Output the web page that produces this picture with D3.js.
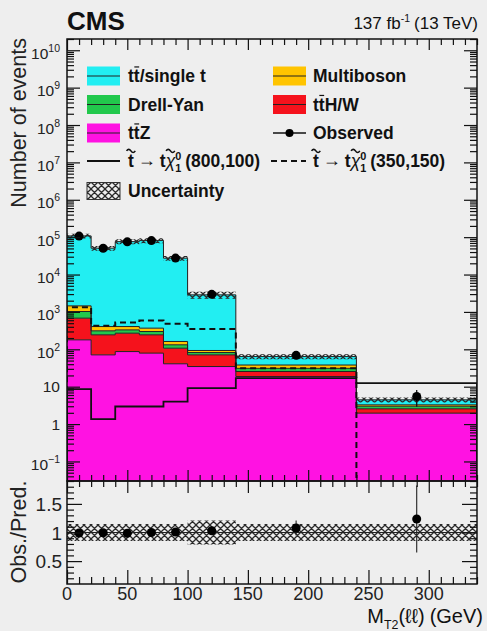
<html>
<script src="https://d3js.org/d3.v7.min.js"></script>
<body style="margin:0;background:#eeeeee">
<svg></svg>
<script>
// bins in MT2(ll), GeV
const binEdges   = [0, 20, 40, 60, 80, 100, 140, 240, 340];
// backgrounds, events per bin
const ttZ        = [179, 71, 87, 79, 41, 34.6, 18.7, 1.96];
const ttHW       = [502, 173, 183, 165, 66, 36.4, 6.8, 0.60];
const drellYan   = [345, 68, 61, 55, 25, 11, 5.5, 0.44];
const multiboson = [426, 94, 75, 69, 30, 11, 7.0, 0.27];
const ttSingleT  = [106500, 50300, 75600, 80700, 27240, 2767, 26, 1.18];
// data
const observed   = [107000, 50500, 75000, 81000, 27600, 2950, 69, 5.5];
const obsErr     = [330, 225, 275, 285, 165, 54, 8.3, 2.6];
// relative uncertainty of the prediction
const uncRel     = [0.15, 0.15, 0.15, 0.15, 0.15, 0.21, 0.15, 0.15];
// signals
const sig800     = [8.6, 1.36, 2.95, 2.95, 4.0, 9.1, 17, 12.4];
const sig350     = [1340, 425, 520, 590, 480, 347, 31, 0];
// ticks
const xTickLabels = [0, 50, 100, 150, 200, 250, 300];
const yExponents  = [-1, 0, 1, 2, 3, 4, 5, 6, 7, 8, 9, 10];
const ratioTickLabels = [0.5, 1, 1.5];

const width = 487, height = 631;
const L = 67, R = 477, T = 39, MB = 481, RB = 584;
const font = "Liberation Sans, Arial, Helvetica, sans-serif";

const svg = d3.select("svg").attr("width", width).attr("height", height)
    .style("font-family", font).style("white-space", "pre");

const x = d3.scaleLinear([0, 340], [L, R]);
const yMin = 0.03;
const y = d3.scaleLog([yMin, 2e10], [MB, T]);
const yr = d3.scaleLinear([0.1, 1.9], [RB, MB]);
const ylog = v => y(Math.max(v, yMin * 0.5));

const defs = svg.append("defs");
defs.append("clipPath").attr("id", "clipMain").append("rect")
    .attr("x", L).attr("y", T).attr("width", R - L).attr("height", MB - T);
defs.append("clipPath").attr("id", "clipRatio").append("rect")
    .attr("x", L).attr("y", MB).attr("width", R - L).attr("height", RB - MB);
defs.append("pattern").attr("id", "hatch").attr("width", 7).attr("height", 7)
    .attr("patternUnits", "userSpaceOnUse")
    .append("path").attr("d", "M0,0 L7,7 M7,0 L0,7 M-1,6 L1,8 M6,-1 L8,1")
    .attr("stroke", "#2a2a2a").attr("stroke-width", 1.3).attr("fill", "none");

const nb = binEdges.length - 1;
const bins = d3.range(nb);

// step points for a histogram
function steps(vals) {
    const pts = [];
    bins.forEach(i => {
        pts.push({ x: binEdges[i], v: vals[i] });
        pts.push({ x: binEdges[i + 1], v: vals[i] });
    });
    return pts;
}

// ---- stack ----
const keys = ["ttZ", "ttHW", "dy", "mb", "tt"];
const colors = { ttZ: "#ff12e2", ttHW: "#f5121c", dy: "#22c84c", mb: "#ffc400", tt: "#22eef2" };
const table = bins.map(i => ({
    ttZ: ttZ[i], ttHW: ttHW[i], dy: drellYan[i], mb: multiboson[i], tt: ttSingleT[i]
}));
const stacked = d3.stack().keys(keys)(table);
const total = bins.map(i => stacked[stacked.length - 1][i][1]);

const main = svg.append("g").attr("clip-path", "url(#clipMain)");

stacked.forEach(s => {
    const pts = [];
    bins.forEach(i => {
        pts.push({ x: binEdges[i], y0: s[i][0], y1: s[i][1] });
        pts.push({ x: binEdges[i + 1], y0: s[i][0], y1: s[i][1] });
    });
    main.append("path")
        .attr("d", d3.area().x(d => x(d.x)).y0(d => ylog(d.y0)).y1(d => ylog(d.y1))(pts))
        .attr("fill", colors[s.key]);
});
stacked.forEach(s => {
    main.append("path")
        .attr("d", d3.line().x(d => x(d.x)).y(d => ylog(d.v))(steps(bins.map(i => s[i][1]))))
        .attr("fill", "none").attr("stroke", "#222").attr("stroke-width", 1);
});

// uncertainty band on the stack
const bandPts = [];
bins.forEach(i => {
    bandPts.push({ x: binEdges[i], u: uncRel[i], t: total[i] });
    bandPts.push({ x: binEdges[i + 1], u: uncRel[i], t: total[i] });
});
main.append("path")
    .attr("d", d3.area().x(d => x(d.x)).y0(d => y(d.t * (1 - d.u))).y1(d => y(d.t * (1 + d.u)))(bandPts))
    .attr("fill", "url(#hatch)");

// signal lines
function sigPath(vals) {
    const pts = steps(vals);
    const p = [{ x: binEdges[0], v: 0 }].concat(pts, [{ x: binEdges[nb], v: 0 }]);
    return d3.line().x(d => x(d.x)).y(d => ylog(d.v))(p);
}
main.append("path").attr("d", sigPath(sig800))
    .attr("fill", "none").attr("stroke", "#111").attr("stroke-width", 1.8);
main.append("path").attr("d", sigPath(sig350))
    .attr("fill", "none").attr("stroke", "#111").attr("stroke-width", 2)
    .attr("stroke-dasharray", "6,4");

// observed
const mid = i => (binEdges[i] + binEdges[i + 1]) / 2;
main.selectAll(".err").data(bins).join("line")
    .attr("x1", i => x(mid(i))).attr("x2", i => x(mid(i)))
    .attr("y1", i => y(observed[i] - obsErr[i])).attr("y2", i => y(observed[i] + obsErr[i]))
    .attr("stroke", "#111").attr("stroke-width", 1.3);
main.selectAll(".obs").data(bins).join("circle")
    .attr("cx", i => x(mid(i))).attr("cy", i => y(observed[i])).attr("r", 4.5)
    .attr("fill", "#000");

// ---- ratio panel ----
const ratio = svg.append("g").attr("clip-path", "url(#clipRatio)");
ratio.append("path")
    .attr("d", d3.area().x(d => x(d.x)).y0(d => yr(1 - d.u)).y1(d => yr(1 + d.u))(bandPts))
    .attr("fill", "url(#hatch)");
ratio.append("line").attr("x1", L).attr("x2", R).attr("y1", yr(1)).attr("y2", yr(1))
    .attr("stroke", "#222").attr("stroke-width", 1);
ratio.selectAll(".rerr").data(bins).join("line")
    .attr("x1", i => x(mid(i))).attr("x2", i => x(mid(i)))
    .attr("y1", i => yr((observed[i] - obsErr[i]) / total[i]))
    .attr("y2", i => yr((observed[i] + obsErr[i]) / total[i]))
    .attr("stroke", "#222").attr("stroke-width", 1.1);
ratio.selectAll(".robs").data(bins).join("circle")
    .attr("cx", i => x(mid(i))).attr("cy", i => yr(observed[i] / total[i])).attr("r", 4.5)
    .attr("fill", "#000");

// ---- axes ----
function tickAxis(axis, tr, size, values) {
    svg.append("g").attr("transform", tr)
        .call(axis.tickValues(values).tickSize(size).tickSizeOuter(0).tickFormat(""))
        .call(g => g.select(".domain").remove())
        .call(g => g.selectAll("line").attr("stroke", "#111").attr("stroke-width", 1.2));
}
const xMajor = d3.range(0, 341, 50), xMinor = d3.range(0, 341, 10).filter(v => v % 50);
// main x ticks
tickAxis(d3.axisBottom(x), `translate(0,${MB})`, -11, xMajor);
tickAxis(d3.axisBottom(x), `translate(0,${MB})`, -6, xMinor);
tickAxis(d3.axisTop(x), `translate(0,${T})`, -11, xMajor);
tickAxis(d3.axisTop(x), `translate(0,${T})`, -6, xMinor);
// ratio x ticks
tickAxis(d3.axisBottom(x), `translate(0,${RB})`, -14, xMajor);
tickAxis(d3.axisBottom(x), `translate(0,${RB})`, -7, xMinor);
tickAxis(d3.axisTop(x), `translate(0,${MB})`, -12, xMajor);
tickAxis(d3.axisTop(x), `translate(0,${MB})`, -6, xMinor);
// main y ticks
const yAll = y.ticks(40);
const yMajor = yAll.filter(v => Math.abs(Math.log10(v) - Math.round(Math.log10(v))) < 1e-6);
const yMinor = yAll.filter(v => !yMajor.includes(v));
tickAxis(d3.axisLeft(y), `translate(${L},0)`, -13, yMajor);
tickAxis(d3.axisLeft(y), `translate(${L},0)`, -7, yMinor);
tickAxis(d3.axisRight(y), `translate(${R},0)`, -13, yMajor);
tickAxis(d3.axisRight(y), `translate(${R},0)`, -7, yMinor);
// ratio y ticks
const rMinor = d3.range(0.2, 1.85, 0.1).map(v => +v.toFixed(1)).filter(v => !ratioTickLabels.includes(v));
tickAxis(d3.axisLeft(yr), `translate(${L},0)`, -15, ratioTickLabels);
tickAxis(d3.axisLeft(yr), `translate(${L},0)`, -7, rMinor);
tickAxis(d3.axisRight(yr), `translate(${R},0)`, -15, ratioTickLabels);
tickAxis(d3.axisRight(yr), `translate(${R},0)`, -7, rMinor);

// frames
[[T, MB], [MB, RB]].forEach(([a, b]) => {
    svg.append("rect").attr("x", L).attr("y", a).attr("width", R - L).attr("height", b - a)
        .attr("fill", "none").attr("stroke", "#111").attr("stroke-width", 1.5);
});

// tick labels
const ylab = svg.append("g").attr("font-size", 15.5).attr("fill", "#222");
yExponents.forEach(e => {
    const v = Math.pow(10, e);
    if (e === 0 || e === 1) {
        ylab.append("text").attr("x", 60).attr("y", y(v) + 5.5).attr("text-anchor", "end")
            .text(e === 0 ? "1" : "10");
    } else {
        const t = ylab.append("text").attr("x", 60).attr("y", y(v) + 8.5).attr("text-anchor", "end");
        t.append("tspan").text("10");
        t.append("tspan").attr("font-size", 10.5).attr("dy", -7).text(e < 0 ? "\u2212" + (-e) : e);
    }
});
svg.append("g").attr("font-size", 19).attr("fill", "#222")
    .selectAll("text").data(ratioTickLabels).join("text")
    .attr("x", 62).attr("y", d => yr(d) + 7).attr("text-anchor", "end").text(d => d);
svg.append("g").attr("font-size", 18).attr("fill", "#222")
    .selectAll("text").data(xTickLabels).join("text")
    .attr("x", d => x(d)).attr("y", 600).attr("text-anchor", "middle").text(d => d);

// rich text helper
function rich(parent, x0, y0, pieces, size, weight, anchorEnd) {
    const g = parent.append("g").attr("font-size", size).attr("font-weight", weight || "normal")
        .attr("fill", "#111");
    let cx = 0;
    pieces.forEach(p => {
        if (p.sup !== undefined || p.sub !== undefined) {
            let w = 0;
            if (p.sup !== undefined) {
                const t = g.append("text").attr("x", cx).attr("y", -size * 0.42)
                    .attr("font-size", size * 0.62).text(p.sup);
                w = Math.max(w, t.node().getComputedTextLength());
            }
            if (p.sub !== undefined) {
                const t = g.append("text").attr("x", cx).attr("y", size * 0.28)
                    .attr("font-size", size * 0.62).text(p.sub);
                w = Math.max(w, t.node().getComputedTextLength());
            }
            cx += w;
            return;
        }
        if (p.gap) { cx += p.gap; return; }
        const t = g.append("text").attr("x", cx).attr("y", p.dy || 0).text(p.t);
        if (p.italic) t.attr("font-style", "italic");
        if (p.w) t.attr("font-weight", p.w);
        if (p.fs) t.attr("font-size", p.fs);
        const w = t.node().getComputedTextLength();
        if (p.tilde) {
            const tw = size * 0.5, a = size * 0.09, yt = -size * 0.92, xs = cx + w / 2 - tw / 2;
            g.append("path")
                .attr("d", `M${xs},${yt} Q${xs + tw / 4},${yt - 2 * a} ${xs + tw / 2},${yt} T${xs + tw},${yt}`)
                .attr("fill", "none").attr("stroke", "#111").attr("stroke-width", 1.6);
        }
        if (p.bar) {
            g.append("line").attr("x1", cx + 0.5).attr("x2", cx + w - 0.5)
                .attr("y1", -size * 0.86).attr("y2", -size * 0.86)
                .attr("stroke", "#111").attr("stroke-width", 1.2);
        }
        cx += w;
    });
    g.attr("transform", `translate(${anchorEnd ? x0 - cx : x0},${y0})`);
    return cx;
}

// header
svg.append("text").attr("x", 67).attr("y", 30).attr("font-size", 26).attr("font-weight", "bold")
    .attr("fill", "#111").text("CMS");
rich(svg, 478, 29, [{ t: "137 fb" }, { sup: "-1" }, { gap: 4 }, { t: "(13 TeV)" }], 17, "normal", true);

// axis titles
svg.append("text").attr("transform", `translate(26,38) rotate(-90)`).attr("text-anchor", "end")
    .attr("font-size", 21.5).attr("fill", "#222").text("Number of events");
svg.append("text").attr("transform", `translate(26,532) rotate(-90)`).attr("text-anchor", "middle")
    .attr("font-size", 21.5).attr("fill", "#222").text("Obs./Pred.");
rich(svg, 483, 623, [{ t: "M" }, { sub: "T2" }, { t: "(\u2113\u2113)" }, { gap: 5 }, { t: "(GeV)" }], 20, "normal", true);

// legend
const leg = svg.append("g");
const rowsY = [76, 104.5, 133, 161, 191];
const c1 = 87, c2 = 273, sw = 33, txt1 = 128, txt2 = 313, fs = 17.5;
function fillEntry(cx, cy, color) {
    leg.append("rect").attr("x", cx).attr("y", cy - 9.5).attr("width", sw).attr("height", 19)
        .attr("fill", color);
    leg.append("line").attr("x1", cx).attr("x2", cx + sw).attr("y1", cy).attr("y2", cy)
        .attr("stroke", "#222").attr("stroke-width", 1.2);
}
fillEntry(c1, rowsY[0], colors.tt);
rich(leg, txt1, rowsY[0] + 6, [{ t: "t" }, { t: "t", bar: true }, { t: "/single t" }], fs, "bold");
fillEntry(c2, rowsY[0], colors.mb);
rich(leg, txt2, rowsY[0] + 6, [{ t: "Multiboson" }], fs, "bold");
fillEntry(c1, rowsY[1], colors.dy);
rich(leg, txt1, rowsY[1] + 6, [{ t: "Drell-Yan" }], fs, "bold");
fillEntry(c2, rowsY[1], colors.ttHW);
rich(leg, txt2, rowsY[1] + 6, [{ t: "t" }, { t: "t", bar: true }, { t: "H/W" }], fs, "bold");
fillEntry(c1, rowsY[2], colors.ttZ);
rich(leg, txt1, rowsY[2] + 6, [{ t: "t" }, { t: "t", bar: true }, { t: "Z" }], fs, "bold");
leg.append("line").attr("x1", c2).attr("x2", c2 + sw).attr("y1", rowsY[2]).attr("y2", rowsY[2])
    .attr("stroke", "#111").attr("stroke-width", 1.3);
leg.append("circle").attr("cx", c2 + sw / 2).attr("cy", rowsY[2]).attr("r", 4).attr("fill", "#000");
rich(leg, txt2, rowsY[2] + 6, [{ t: "Observed" }], fs, "bold");

const sigLabel = m => [{ t: "t", tilde: true }, { gap: 4 }, { t: "\u2192", w: "normal", fs: 18, dy: -1 },
    { gap: 4 }, { t: "t" }, { t: "\u03c7", tilde: true, italic: true, w: "normal" },
    { sup: "0", sub: "1" }, { gap: 4 }, { t: m }];
leg.append("line").attr("x1", c1).attr("x2", c1 + sw).attr("y1", rowsY[3]).attr("y2", rowsY[3])
    .attr("stroke", "#111").attr("stroke-width", 1.8);
rich(leg, txt1, rowsY[3] + 6, sigLabel("(800,100)"), fs, "bold");
leg.append("line").attr("x1", c2 - 2).attr("x2", c2 + sw).attr("y1", rowsY[3]).attr("y2", rowsY[3])
    .attr("stroke", "#111").attr("stroke-width", 2).attr("stroke-dasharray", "6,4");
rich(leg, txt2, rowsY[3] + 6, sigLabel("(350,150)"), fs, "bold");

leg.append("rect").attr("x", c1).attr("y", rowsY[4] - 8.5).attr("width", sw).attr("height", 17)
    .attr("fill", "url(#hatch)").attr("stroke", "#333").attr("stroke-width", 1);
rich(leg, txt1, rowsY[4] + 6, [{ t: "Uncertainty" }], fs, "bold");
</script>
</body>
</html>
